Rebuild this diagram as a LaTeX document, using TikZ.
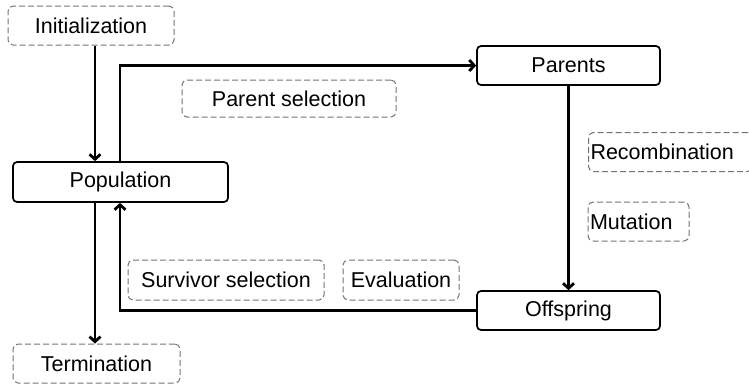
\documentclass[tikz,border=0pt]{standalone}
\usepackage{fontspec}
\setmainfont{Liberation Sans}
\usepackage{tikz}
\usetikzlibrary{positioning,calc,arrows.meta}

\tikzset{
    stage/.style={draw, rounded corners=4pt, line width=1.7pt, minimum width=183pt, minimum height=39pt, inner sep=0pt},
    oper/.style={draw=black!55, dashed, dash pattern=on 6pt off 3pt, rounded corners=5pt, line width=1pt, minimum height=39pt, inner sep=0pt},
    flow/.style={line width=2.8pt, -{Straight Barb[length=5pt,width=11pt]}}
}

\begin{document}
\begin{tikzpicture}[x=1pt, y=-1pt, font=\fontsize{21.5}{26}\selectfont]
    \useasboundingbox (0,0) rectangle (749,384);

    % main stages
    \node [stage, minimum width=215pt, minimum height=40pt] (pop) at (120.5,182) {Population};
    \node [stage] (parents) at (568.5,65.5) {Parents};
    \node [stage] (offspring) at (568.5,310.5) {Offspring};

    % operators
    \node [oper, minimum width=166pt] (init) at (91,25.5) {Initialization};
    \node [oper, minimum width=167pt] (term) at (96.5,363.5) {Termination};
    \node [oper, minimum width=214pt, minimum height=37pt] (psel) at (289,98.5) {Parent selection};
    \node [oper, anchor=west, text width=160pt, align=left, inner xsep=2pt] (recomb) at (588,152) {Recombination};
    \node [oper, text width=97pt, align=left, inner xsep=2pt] (mut) at (638.5,221.5) {Mutation};
    \node [oper, minimum width=196pt, minimum height=40pt] (ssel) at (226,280) {Survivor selection};
    \node [oper, minimum width=116pt, minimum height=40pt] (eval) at (401,280) {Evaluation};

    % connectors
    \coordinate (spine) at (95,0);
    \coordinate (loop) at (120,0);
    \draw [flow] (init.south -| spine) -- (pop.north -| spine);
    \draw [flow] (pop.south -| spine) -- (term.north -| spine);
    \draw [flow] (pop.north -| loop) |- (parents.west);
    \draw [flow] (parents.south) -- (offspring.north);
    \draw [flow] (offspring.west) -| (pop.south -| loop);
\end{tikzpicture}
\end{document}
